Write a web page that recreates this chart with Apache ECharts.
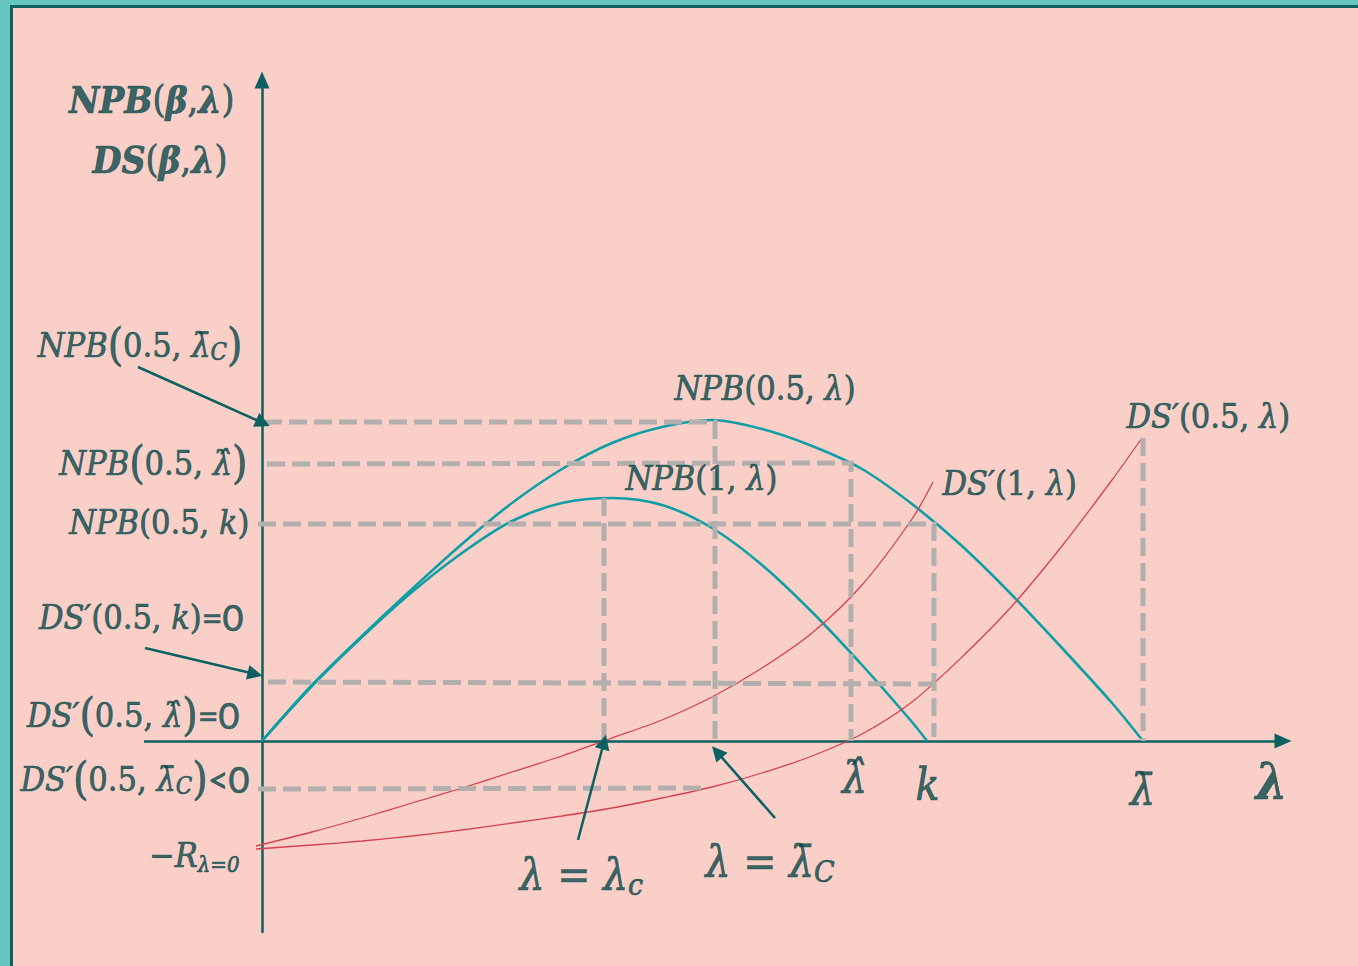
<!DOCTYPE html>
<html>
<head>
<meta charset="utf-8">
<title>NPB and DS′ as functions of λ</title>
<script src="https://cdn.jsdelivr.net/npm/echarts@6/dist/echarts.min.js"></script>
<style>
  html, body { margin: 0; padding: 0; background: #F9CFC8; }
  #frame { position: absolute; left: 0; top: 0; width: 1358px; height: 966px; box-sizing: border-box;
           border-top: 5px solid #66C6C0; border-left: 10px solid #66C6C0; }
  #inner { width: 100%; height: 100%; box-sizing: border-box;
           border-top: 3px solid #0F6160; border-left: 3px solid #0F6160; }
  #chart { position: absolute; left: 0; top: 0; width: 1358px; height: 966px; }
</style>
</head>
<body>
<div id="frame"><div id="inner"></div></div>
<div id="chart"></div>
<script>
// Curves sampled as [λ, value] pairs
const npbHalf = [[0,0],[0.5,0.56],[1.0,1.05],[1.5,1.52],[2.0,1.97],[2.5,2.38],[3.0,2.72],[3.5,2.98],
                 [4.0,3.14],[4.5,3.21],[5.0,3.12],[5.5,2.95],[6.0,2.72],[6.5,2.37],[7.0,1.95],[7.5,1.46],
                 [8.0,0.93],[8.5,0.38],[8.81,0]];
const npbOne = [[0,0],[0.5,0.55],[1.0,1.04],[1.5,1.49],[2.0,1.88],[2.5,2.20],[3.0,2.38],[3.5,2.43],
                [4.0,2.36],[4.5,2.13],[5.0,1.76],[5.5,1.29],[6.0,0.76],[6.5,0.19],[6.65,0]];
const dsPrimeHalf = [[-0.06,-1.08],[0.5,-1.04],[1.0,-1.00],[1.5,-0.95],[2.0,-0.89],[2.5,-0.82],[3.0,-0.75],
                     [3.5,-0.67],[4.0,-0.57],[4.5,-0.46],[5.0,-0.32],[5.5,-0.15],[6.0,0.07],[6.5,0.39],
                     [7.0,0.84],[7.5,1.35],[8.0,1.95],[8.5,2.61],[8.80,3.03]];
const dsPrimeOne = [[-0.06,-1.05],[0.5,-0.91],[1.0,-0.77],[1.5,-0.62],[2.0,-0.47],[2.5,-0.31],[3.0,-0.15],
                    [3.5,0.03],[4.0,0.21],[4.5,0.44],[5.0,0.73],[5.5,1.08],[6.0,1.56],[6.5,2.22],[6.71,2.59]];

// Key λ values on the horizontal axis
const lambdaC = 3.42, lambdaBarC = 4.53, lambdaHat = 5.89, kVal = 6.72, lambdaBar = 8.81;
// Key levels on the vertical axis
const npbAtBarC = 3.19, npbAtHat = 2.77, npbAtK = 2.17, npbOneMax = 2.43;
const dsAtK = 0.58, dsAtBarC = -0.48, dsAtBar = 3.03;

const INK = '#084749';
const AXIS = '#0C6062';
const TEAL = '#0E9FA6';
const RED = '#D4424F';
const GUIDE = '#B2AFAE';
const SERIF = "'DejaVu Serif Condensed','DejaVu Serif',serif";
const SANS = "Lato,'Open Sans',sans-serif";

// Dashed guide paths from the key values
const guides = [
  [[0.02, npbAtBarC], [lambdaBarC, npbAtBarC], [lambdaBarC, -0.04]],
  [[0.05, npbAtHat], [lambdaHat, npbAtHat + 0.01], [lambdaHat, 0]],
  [[-0.04, npbAtK], [kVal, npbAtK], [kVal, 0.04]],
  [[lambdaC, npbOneMax], [lambdaC, -0.02]],
  [[0.06, dsAtK + 0.01], [kVal + 0.01, dsAtK - 0.01]],
  [[-0.04, dsAtBarC], [4.45, dsAtBarC + 0.01]],
  [[lambdaBar, dsAtBar], [lambdaBar, 0]]
];

// Pointer arrows: [from, to]
const pointers = [
  [[-1.24, 3.74], [0.01, 3.18]],
  [[-1.17, 0.93], [-0.07, 0.67]],
  [[3.16, -0.99], [lambdaC, -0.01]],
  [[5.13, -0.77], [4.55, -0.11]]
];

// Text annotations: anchor, alignment and rich text
const notes = [
  { at: [-0.27, 6.41], align: 'right', text: '{bi|NPB}{rmB|(}{bi|β}{rmB|,}{bi|λ}{rmB|)}' },
  { at: [-0.34, 5.81], align: 'right', text: '{bi|DS}{rmB|(}{bi|β}{rmB|,}{bi|λ}{rmB|)}' },
  { at: [-0.19, 3.96], align: 'right', text: '{it|NPB}{tall|(}{rm|0.5,}{it| λ̄}{sub|C}{tall|)}' },
  { at: [-0.14, 2.78], align: 'right', text: '{it|NPB}{tall|(}{rm|0.5,}{it| λ̂}{tall|)}' },
  { at: [-0.12, 2.19], align: 'right', text: '{it|NPB}{rm|(0.5,}{it| k}{rm|)}' },
  { at: [-0.18, 1.24], align: 'right', text: '{it|DS′}{rm|(0.5,}{it| k}{rm|)}{sans|=0}' },
  { at: [-0.22, 0.26], align: 'right', text: '{it|DS′}{tall|(}{rm|0.5,}{it| λ̂}{tall|)}{sans|=0}' },
  { at: [-0.12, -0.38], align: 'right', text: '{it|DS′}{tall|(}{rm|0.5,}{it| λ̄}{sub|C}{tall|)}{sans|<0}' },
  { at: [-0.22, -1.14], align: 'right', text: '{rm|−}{it|R}{subR|λ=0}' },
  { at: [4.13, 3.53], align: 'left', text: '{it|NPB}{rm|(0.5,}{it| λ}{rm|)}' },
  { at: [3.64, 2.63], align: 'left', text: '{it|NPB}{rm|(1,}{it| λ}{rm|)}' },
  { at: [6.81, 2.58], align: 'left', text: '{it|DS′}{rm|(1,}{it| λ}{rm|)}' },
  { at: [8.65, 3.25], align: 'left', text: '{it|DS′}{rm|(0.5,}{it| λ}{rm|)}' },
  { at: [2.58, -1.34], align: 'left', text: '{itL|λ}{rmL| = }{itL|λ}{subL|c}' },
  { at: [4.44, -1.21], align: 'left', text: '{itL|λ}{rmL| = }{itL|λ̄}{subL|C}' },
  { at: [5.93, -0.37], align: 'center', text: '{itL|λ̂}' },
  { at: [6.66, -0.44], align: 'center', text: '{itL|k}' },
  { at: [8.81, -0.49], align: 'center', text: '{itL|λ̄}' },
  { at: [10.10, -0.41], align: 'center', text: '{biL|λ}' }
];

// Glyph styles; a thin outline in the ink colour gives the strokes more weight
const ink = (o) => Object.assign({ color: INK, textBorderColor: INK, textBorderWidth: 0.7 }, o);
const rich = {
  it:   ink({ fontFamily: SERIF, fontStyle: 'italic', fontSize: 34 }),
  rm:   ink({ fontFamily: SERIF, fontSize: 34 }),
  tall: ink({ fontFamily: SERIF, fontSize: 44 }),
  sub:  ink({ fontFamily: SERIF, fontStyle: 'italic', fontSize: 24, padding: [15, 0, 0, 0] }),
  subR: ink({ fontFamily: SERIF, fontStyle: 'italic', fontSize: 22, padding: [19, 0, 0, 0] }),
  sans: ink({ fontFamily: SANS, fontSize: 36 }),
  bi:   ink({ fontFamily: SERIF, fontStyle: 'italic', fontWeight: 'bold', fontSize: 37 }),
  rmB:  ink({ fontFamily: SERIF, fontSize: 37 }),
  itL:  ink({ fontFamily: SERIF, fontStyle: 'italic', fontSize: 44 }),
  rmL:  ink({ fontFamily: SERIF, fontSize: 44 }),
  subL: ink({ fontFamily: SERIF, fontStyle: 'italic', fontSize: 30, padding: [20, 0, 0, 0] }),
  biL:  ink({ fontFamily: SERIF, fontStyle: 'italic', fontWeight: 'bold', fontSize: 50 })
};

const chart = echarts.init(document.getElementById('chart'), null, { renderer: 'svg' });

const curve = (name, data, color, width, z) => ({
  name, type: 'line', data, smooth: 0.3, symbol: 'none', z, silent: true,
  lineStyle: { color, width }
});

const series = [
  curve('NPB(0.5,λ)', npbHalf, TEAL, 2.6, 2),
  curve('NPB(1,λ)', npbOne, TEAL, 2.6, 2),
  curve("DS'(0.5,λ)", dsPrimeHalf, RED, 1.3, 2),
  curve("DS'(1,λ)", dsPrimeOne, RED, 1.3, 2)
];

guides.forEach((g, i) => series.push({
  name: 'guide' + i, type: 'line', data: g, symbol: 'none', z: 3, silent: true,
  lineStyle: { color: GUIDE, width: 5, type: [18, 7], cap: 'butt', join: 'miter' }
}));

series.push({
  name: 'pointers', type: 'lines', coordinateSystem: 'cartesian2d', z: 4, clip: false, silent: true,
  symbol: ['none', 'triangle'], symbolSize: 15,
  lineStyle: { color: AXIS, width: 2.5, opacity: 1 },
  data: pointers.map(p => ({ coords: p }))
});

series.push({
  name: 'notes', type: 'scatter', z: 5, clip: false, silent: true,
  symbolSize: 1, itemStyle: { color: 'rgba(0,0,0,0)' },
  data: notes.map(n => ({
    value: n.at, text: n.text,
    label: { show: true, position: [0, 0], align: n.align, verticalAlign: 'middle' }
  })),
  label: { show: true, formatter: p => p.data.text, rich }
});

chart.setOption({
  animation: false,
  backgroundColor: 'transparent',
  grid: { left: 145, right: 75, top: 80, bottom: 34 },
  xAxis: {
    type: 'value', min: -1.17, max: 10.21,
    axisLine: { onZero: true, lineStyle: { color: AXIS, width: 2.5 }, symbol: ['none', 'triangle'], symbolSize: [15, 17] },
    axisTick: { show: false }, axisLabel: { show: false }, splitLine: { show: false }
  },
  yAxis: {
    type: 'value', min: -1.91, max: 6.61,
    axisLine: { onZero: true, lineStyle: { color: AXIS, width: 2.5 }, symbol: ['none', 'triangle'], symbolSize: [15, 17] },
    axisTick: { show: false }, axisLabel: { show: false }, splitLine: { show: false }
  },
  series
});
</script>
</body>
</html>
